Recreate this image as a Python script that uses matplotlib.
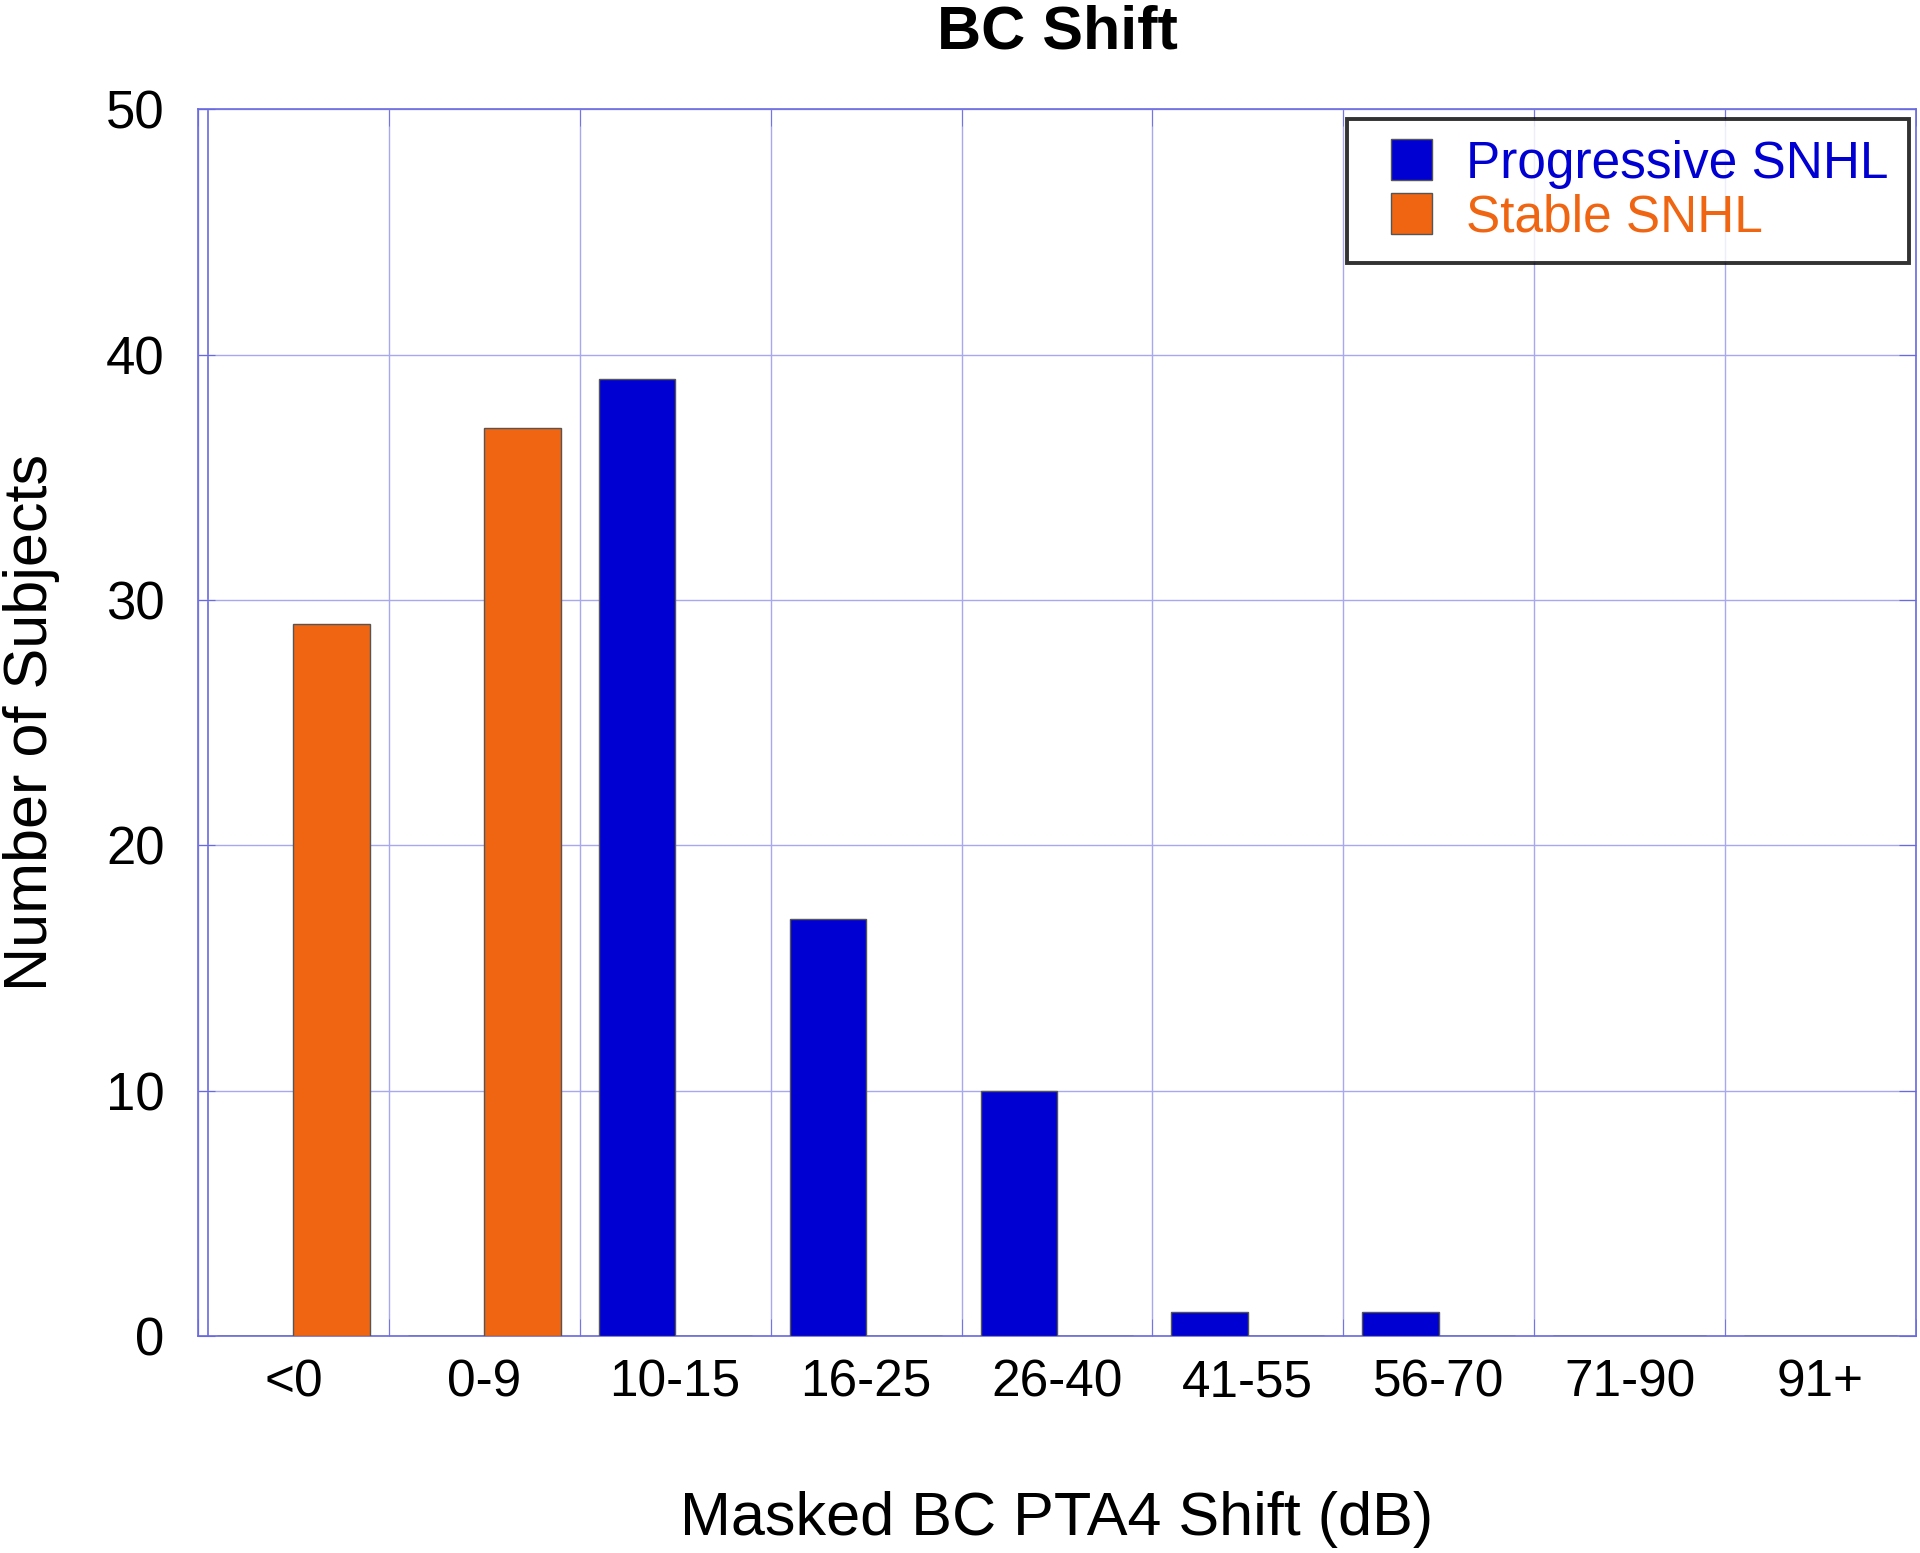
import matplotlib.pyplot as plt
import numpy as np
from matplotlib.legend_handler import HandlerPatch
from matplotlib.patches import Rectangle

plt.rcParams['font.family'] = ['Liberation Sans', 'DejaVu Sans']

# Data
categories = ['<0', '0-9', '10-15', '16-25', '26-40', '41-55', '56-70', '71-90', '91+']
progressive = [0, 0, 39, 17, 10, 1, 1, 0, 0]
stable = [29, 37, 0, 0, 0, 0, 0, 0, 0]
y_ticks = [0, 10, 20, 30, 40, 50]

BLUE = '#0000D2'
ORANGE = '#EF6511'
GRID = '#A8A8F0'
SPINE = '#6A6AE0'
EDGE = '#555555'

fig = plt.figure(figsize=(19.2, 15.53), dpi=100)
ax = fig.add_axes([0.1031, 0.1397, 0.8948, 0.790])

x = np.arange(len(categories))
w = 0.4
ax.bar(x - w, progressive, width=w, align='edge', color=BLUE,
       edgecolor=EDGE, linewidth=1, zorder=3)
ax.bar(x, stable, width=w, align='edge', color=ORANGE,
       edgecolor=EDGE, linewidth=1, zorder=3)

ax.set_xlim(-0.5, len(categories) - 0.5)
ax.set_ylim(0, 50)

# ticks & grid
ax.set_xticks(x)
ax.set_xticklabels(categories)
ax.set_xticks(np.arange(len(categories) + 1) - 0.5, minor=True)
ax.set_yticks(y_ticks)
ax.tick_params(axis='x', which='major', length=0, labelsize=37, pad=16)
ax.tick_params(axis='x', which='minor', direction='in', length=12,
               color=SPINE, top=True, bottom=True)
ax.tick_params(axis='y', which='major', direction='in', length=12,
               color=SPINE, labelsize=38, pad=24, left=True, right=True)
ax.grid(True, which='minor', axis='x', color=GRID, linewidth=1, zorder=0)
ax.grid(True, which='major', axis='y', color=GRID, linewidth=1, zorder=0)
ax.axvline(-0.448, color=SPINE, linewidth=1.2, zorder=1)
for s in ax.spines.values():
    s.set_color(SPINE)
    s.set_linewidth(1.2)

ax.set_title('BC Shift', fontsize=44, fontweight='bold', pad=44)
ax.set_xlabel('Masked BC PTA4 Shift (dB)', fontsize=44, labelpad=60)
ax.set_ylabel('Number of Subjects', fontsize=44, labelpad=33)


class SquareHandler(HandlerPatch):
    # square swatch, pushed a bit to the right like the original
    def create_artists(self, legend, orig_handle, xdescent, ydescent,
                       width, height, fontsize, trans):
        side = 0.8 * fontsize
        p = Rectangle((0.45 * fontsize, (height - side) / 2 - ydescent), side, side,
                      facecolor=orig_handle.get_facecolor(),
                      edgecolor=orig_handle.get_edgecolor(),
                      linewidth=orig_handle.get_linewidth(), transform=trans)
        return [p]


handles = [Rectangle((0, 0), 1, 1, facecolor=BLUE, edgecolor=EDGE, linewidth=1),
           Rectangle((0, 0), 1, 1, facecolor=ORANGE, edgecolor=EDGE, linewidth=1)]
leg = ax.legend(handles, ['Progressive SNHL', 'Stable SNHL'],
                loc='upper right', bbox_to_anchor=(0.996, 0.992), fontsize=37,
                frameon=True, fancybox=False, edgecolor='black',
                handlelength=1.25, handleheight=0.8, handletextpad=0.66,
                borderpad=0.4, labelspacing=0.1, borderaxespad=0,
                handler_map={Rectangle: SquareHandler()})
leg.get_frame().set_linewidth(2.8)
for txt, c in zip(leg.get_texts(), [BLUE, ORANGE]):
    txt.set_color(c)

fig.savefig('out.png', dpi=100)
